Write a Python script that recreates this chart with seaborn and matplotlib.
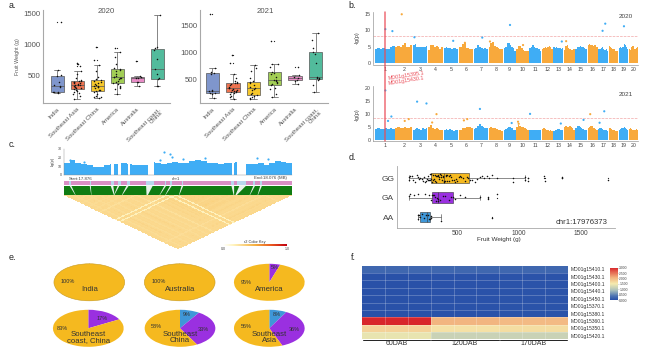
import numpy as np
import pandas as pd
import matplotlib
matplotlib.use("Agg")
import matplotlib.pyplot as plt
from matplotlib.colors import LinearSegmentedColormap
from matplotlib.cm import ScalarMappable
from matplotlib.patches import Polygon
import seaborn as sns

sns.set_theme(style="white")
plt.rcParams['font.family'] = ['Liberation Sans', 'DejaVu Sans']

W, H = 645, 350
fig = plt.figure(figsize=(W / 100, H / 100), dpi=100, facecolor="white")


def axpx(l, t, r, b, **kw):
    return fig.add_axes([l / W, 1 - b / H, (r - l) / W, (b - t) / H], **kw)


def tx(x, y, s, **kw):
    kw.setdefault("ha", "center")
    kw.setdefault("va", "center")
    kw.setdefault("color", "#333333")
    return fig.text(x / W, 1 - y / H, s, **kw)


GREY = "#A8A8A8"
TXT = "#555555"

# ---------------- panel a data
regions = ["India", "Southeast Asia", "Southeast China", "America", "Australia", "Southeast coast,\nChina"]
region_colors = ["#7F96CC", "#EE7350", "#F6C72A", "#A2CE55", "#E78CC6", "#52BB9C"]
w2020_india = [210, 220, 225, 235, 300, 320, 340, 390, 490, 500, 580, 1360]
w2020_seasia = [120, 170, 190, 215, 230, 250, 265, 280, 285, 295, 305, 315, 325, 335, 340, 345, 355, 365, 375, 385,
                395, 400, 405, 420, 450, 510, 560, 640, 680, 690]
w2020_china = [130, 140, 150, 170, 190, 230, 245, 255, 265, 285, 300, 310, 320, 325, 335, 350, 370, 395, 410, 420,
               430, 470, 560, 660, 740, 960]
w2020_america = [200, 280, 290, 300, 320, 350, 375, 385, 410, 430, 450, 460, 470, 475, 490, 520, 560, 590, 600, 610,
                 680, 790, 870, 930]
w2020_australia = [320, 390, 395, 450, 460, 470, 480, 730]
w2020_coast = [320, 330, 440, 450, 520, 600, 760, 900, 930, 950, 1470]
w2021_india = [150, 230, 235, 245, 270, 280, 290, 590, 610, 630, 700, 1700]
w2021_seasia = [130, 170, 190, 220, 245, 255, 260, 270, 280, 290, 305, 315, 325, 335, 350, 380, 410, 425, 430, 440,
                470, 520, 600, 800, 950]
w2021_china = [130, 140, 170, 190, 205, 215, 240, 290, 320, 340, 360, 380, 420, 445, 455, 520, 650, 700, 760]
w2021_america = [160, 230, 320, 330, 385, 400, 420, 450, 470, 480, 490, 530, 600, 620, 630, 730, 770, 780, 1200]
w2021_australia = [400, 470, 490, 510, 530, 570, 730]
w2021_coast = [260, 380, 490, 500, 510, 520, 540, 800, 960, 1000, 1070, 1220, 1350]

# ---------------- panel b data
chr_names = [str(i) for i in range(1, 21)]
chr_len = [60, 50, 44, 45, 43, 42, 43, 43, 36, 37, 35, 33, 30, 31, 35, 30, 30, 28, 28, 28]
env_2020 = [
    [4.2, 4.5, 4.4, 4.6, 4.3, 4.4, 4.8, 5.2], [4.8, 5.2, 5.0, 5.5, 6.0, 5.0, 4.9, 5.6],
    [5.6, 5.8, 5.0, 4.8, 5.0, 4.8, 5.0, 5.2], [4.0, 5.5, 5.4, 5.0, 5.2, 4.8, 4.4, 5.0],
    [4.6, 4.8, 4.5, 4.6, 4.4, 4.5, 4.5, 4.4], [4.8, 5.0, 5.8, 6.0, 4.6, 4.5, 4.2, 4.4],
    [4.2, 4.6, 5.6, 5.0, 4.5, 4.4, 4.6, 4.4], [5.0, 6.0, 6.4, 5.2, 5.0, 4.6, 4.4, 4.2],
    [4.6, 4.8, 6.0, 6.2, 5.6, 5.0, 4.5, 3.8], [4.2, 5.2, 5.2, 4.6, 4.0, 3.8, 3.6, 3.8],
    [4.6, 4.8, 5.4, 4.8, 4.6, 4.6, 4.2, 3.8], [4.2, 4.6, 4.8, 4.6, 5.0, 5.2, 4.8, 4.4],
    [4.8, 4.6, 4.8, 4.6, 4.5, 4.6, 4.4, 4.5], [4.0, 5.2, 5.6, 4.6, 4.2, 4.0, 4.0, 4.2],
    [4.4, 4.8, 5.0, 5.2, 5.0, 4.8, 4.6, 4.2], [5.4, 5.8, 5.6, 5.4, 5.2, 5.6, 5.4, 4.8],
    [4.2, 4.4, 4.6, 4.8, 4.2, 4.0, 4.2, 3.8], [5.2, 5.0, 4.6, 4.4, 4.2, 3.8, 3.6, 3.8],
    [4.6, 4.8, 4.6, 4.8, 5.8, 5.6, 5.0, 4.4], [4.2, 4.0, 5.0, 5.2, 4.4, 4.2, 4.6, 5.0]]
env_2021 = [
    [4.2, 4.4, 4.3, 4.2, 4.4, 4.2, 4.5, 4.3], [4.6, 5.0, 4.6, 4.4, 4.8, 4.4, 4.6, 5.0],
    [3.8, 4.2, 4.4, 4.2, 4.0, 4.4, 4.2, 4.4], [5.0, 5.6, 4.4, 4.2, 4.4, 4.2, 4.0, 3.8],
    [3.8, 4.2, 4.0, 4.2, 3.8, 3.6, 3.8, 4.0], [3.8, 4.0, 4.4, 4.6, 4.8, 5.0, 4.8, 4.4],
    [4.2, 4.6, 5.4, 6.0, 5.4, 4.8, 4.6, 4.4], [4.6, 4.8, 4.6, 4.4, 4.2, 4.0, 3.8, 3.6],
    [4.0, 4.2, 4.6, 4.8, 5.0, 4.4, 4.0, 3.8], [4.8, 5.6, 5.4, 5.0, 4.8, 4.6, 4.2, 3.8],
    [3.8, 4.0, 3.9, 3.8, 4.0, 3.9, 3.8, 3.7], [4.2, 4.4, 4.2, 4.0, 3.8, 3.6, 3.7, 3.6],
    [3.6, 3.8, 4.0, 4.2, 4.2, 4.0, 3.8, 4.0], [5.0, 5.4, 5.0, 4.8, 5.2, 5.0, 4.6, 4.0],
    [4.6, 5.4, 5.2, 5.0, 4.6, 4.2, 4.0, 3.8], [4.6, 5.0, 5.4, 5.2, 4.6, 4.4, 4.2, 3.8],
    [4.2, 4.6, 4.4, 4.2, 4.0, 3.8, 4.0, 3.6], [4.6, 4.4, 4.2, 4.0, 3.8, 3.6, 3.6, 3.4],
    [4.0, 4.2, 4.4, 4.6, 4.8, 4.6, 4.2, 3.8], [4.2, 4.4, 4.2, 4.0, 3.8, 4.0, 4.2, 3.8]]
peak2020_chr = [1, 1, 2, 3, 5, 7, 9, 13, 14, 17, 17, 19, 6, 8, 10]
peak2020_pos = [32, 53, 19, 5, 28, 26, 19, 25, 6, 13, 21, 15, 18, 4, 20]
peak2020_val = [10.4, 9.8, 15.0, 7.9, 6.8, 7.8, 11.7, 6.6, 6.7, 9.9, 12.1, 11.3, 6.2, 6.6, 5.5]
peak2021_chr = [1, 1, 1, 2, 2, 3, 3, 4, 4, 6, 6, 7, 9, 10, 10, 11, 13, 15, 16, 17, 17]
peak2021_pos = [32, 50, 40, 28, 40, 13, 41, 25, 12, 15, 25, 19, 24, 5, 7, 2, 22, 25, 8, 4, 18]
peak2021_val = [19.0, 9.0, 7.3, 7.3, 8.0, 14.7, 14.0, 9.9, 6.7, 7.5, 8.0, 11.9, 6.5, 7.0, 6.2, 10.0, 6.3, 7.7, 9.9, 6.6, 11.0]
gene_labels = ["MD01g15395.1", "MD01g15430.1"]

# ---------------- panel c data
c_env = [13, 17, 14, 12, 11, 9, 9, 11, 12, 12, 13, 12, 11, 11, 11, 15, 14, 12, 13, 15,
         14, 14, 16, 17, 16, 14, 13, 12, 13, 14, 15, 13, 12, 12, 13, 11, 13, 16, 15, 14]
c_gap_start = [17.9172, 17.9230, 17.9323, 17.9499, 18.0234, 18.0281]
c_gap_end = [17.9198, 17.9256, 17.9338, 17.9551, 18.0252, 18.0354]
c_peak_x = [17.8815, 17.8935, 17.9600, 17.9690, 17.9707, 17.9800, 18.0000, 18.0450, 18.0550, 17.9640]
c_peak_y = [17, 15, 17, 24, 21, 18, 19, 19, 18, 27]
link_top = [17.8815, 17.8990, 17.9180, 17.9240, 17.9320, 17.9510, 17.9650, 17.9700, 17.9800, 18.0240, 18.0330, 18.0430, 18.0490]
link_bot = [17.8860, 17.9000, 17.9200, 17.9200, 17.9270, 17.9490, 17.9600, 17.9650, 17.9770, 18.0250, 18.0270, 18.0390, 18.0460]
link_w = [0.0008, 0.0005, 0.0012, 0.0008, 0.0010, 0.0030, 0.0008, 0.0008, 0.0008, 0.0012, 0.0030, 0.0008, 0.0008]
ld_weight = [0.29, 0.30, 0.29, 0.28, 0.30, 0.29, 0.31, 0.29, 0.28, 0.30, 0.29, 0.30, 0.28, 0.29, 0.30, 0.31, 0.29, 0.28,
             0.30, 0.29, 0.30, 0.28, 0.29, 0.30, 0.29, 0.26, 0.29, 0.30, 0.29, 0.31, 0.30, 0.29, 0.31, 0.30, 0.32, 0.30,
             0.17, 0.30, 0.31, 0.17, 0.31, 0.32, 0.33, 0.32, 0.33, 0.31, 0.32, 0.33, 0.32, 0.31, 0.33, 0.32, 0.31, 0.30,
             0.32, 0.31, 0.32, 0.33, 0.31, 0.30, 0.31, 0.32, 0.31, 0.30, 0.29, 0.30, 0.31, 0.30, 0.29, 0.30, 0.27, 0.29,
             0.30, 0.29, 0.30, 0.31, 0.29, 0.30, 0.29, 0.30]

# ---------------- panel d data
genotypes = ["GG", "GA", "AA"]
geno_colors = ["#F5B91F", "#9A30E0", "#3F97D8"]
fw_gg = [110, 110, 115, 130, 140, 160, 170, 180, 190, 200, 210, 220, 230, 240, 250, 255, 260, 265, 270, 275, 280, 285,
         290, 295, 300, 305, 310, 315, 320, 325, 330, 335, 340, 345, 350, 355, 360, 365, 370, 375, 380, 385, 390, 395,
         400, 405, 410, 415, 420, 430, 435, 440, 450, 460, 470, 480, 490, 500, 510, 520, 530, 545, 560, 575, 590, 600,
         620, 640, 660, 680, 700, 720, 740, 760, 780, 820, 950, 950, 1050, 1050, 1070, 1070, 1200, 1210, 1350, 1350, 1720]
fw_ga = [110, 120, 150, 180, 240, 270, 285, 295, 300, 310, 320, 330, 335, 340, 345, 360, 380, 400, 430, 450, 465, 480,
         520, 560, 680, 750, 750, 820]
fw_aa = [180, 185, 190, 195, 210, 230, 250, 260, 270, 275, 285, 290, 370, 780]

# ---------------- panel e data
pie_names = ["India", "Australia", "America", "Southeast\ncoast, China", "Southeast\nChina", "Southeast\nAsia"]
pie_blue = [0, 0, 0, 0, 9, 8]
pie_purple = [0, 0, 5, 17, 33, 36]
pie_yellow = [100, 100, 95, 83, 58, 56]
allele_colors = ["#3F97D8", "#9A30E0", "#F5B91F"]

# ---------------- panel f data
gene_ids = ["MD01g15410.1", "MD01g15430.1", "MD01g15400.1", "MD01g15440.1", "MD01g15450.1",
            "MD01g15370.1", "MD01g15380.1", "MD01g15360.1", "MD01g15350.1", "MD01g15420.1"]
stages = ["60DAB", "120DAB", "170DAB"]
expr_60 = [0.25, 0.02, 0.02, 0.02, 0.02, 0.02, 0.02, 3.0, 1.75, 1.4]
expr_120 = [0.25, 0.03, 0.03, 0.03, 0.03, 0.03, 0.03, 2.05, 1.6, 1.15]
expr_170 = [0.25, 0.04, 0.04, 0.04, 0.04, 0.04, 0.04, 2.0, 1.65, 1.15]
cbar_ticks = [0.0, 0.5, 1.0, 1.5, 2.0, 2.5, 3.0]


# ===================== panel a
def panel_a(ax, groups, xlim, ylim, yticks):
    df = pd.DataFrame([(r, v) for r, g in zip(regions, groups) for v in g], columns=["region", "w"])
    sns.boxplot(data=df, x="region", y="w", hue="region", order=regions, hue_order=regions, palette=region_colors,
                width=0.65, linewidth=0.5, fliersize=0.9, saturation=1, legend=False, ax=ax,
                linecolor="#555555", flierprops=dict(marker="o", markerfacecolor="#222222", markeredgewidth=0))
    sns.stripplot(data=df, x="region", y="w", order=regions, color="#111111", size=1.1, jitter=0.2, ax=ax)
    ax.set_xlim(*xlim)
    ax.set_ylim(*ylim)
    ax.set_yticks(yticks)
    ax.set_xlabel("")
    ax.set_ylabel("")
    ax.set_xticks(range(len(regions)))
    ax.set_xticklabels(regions, rotation=45, ha="right", rotation_mode="anchor", fontsize=4.3, color=TXT, linespacing=0.95)
    ax.tick_params(axis="y", labelsize=5.6, labelcolor=TXT, length=1, width=0.4, color=GREY, pad=1)
    ax.tick_params(axis="x", length=1, width=0.4, color=GREY, pad=1.5)
    sns.despine(ax=ax)
    for s in ("left", "bottom"):
        ax.spines[s].set_color(GREY)
        ax.spines[s].set_linewidth(0.8)


axa1 = axpx(43, 10, 170, 103)
panel_a(axa1, [w2020_india, w2020_seasia, w2020_china, w2020_america, w2020_australia, w2020_coast],
        (-0.7, 5.65), (50, 1550), [500, 1000, 1500])
axa2 = axpx(200, 10, 328, 103)
panel_a(axa2, [w2021_india, w2021_seasia, w2021_china, w2021_america, w2021_australia, w2021_coast],
        (-0.6, 5.6), (55, 1780), [500, 1000, 1500])
tx(106, 11.7, "2020", fontsize=5.6, color=TXT)
tx(265, 11.7, "2021", fontsize=5.6, color=TXT)
tx(17, 57, "Fruit Weight (g)", fontsize=3.8, rotation=90, color=TXT)

# ===================== panel b
starts = np.concatenate([[0], np.cumsum(np.array(chr_len) + 2)[:-1]])
centers = starts + np.array(chr_len) / 2
BLUE = "#3FADF5"
ORANGE = "#F8A93C"
RED = "#EA4A55"


def panel_b(ax, env, pchr, ppos, pval, ylim, yticks, thr):
    for i, e in enumerate(env):
        xs = np.linspace(starts[i], starts[i] + chr_len[i], len(e) + 1)
        col = BLUE if i % 2 == 0 else ORANGE
        ax.fill_between(xs, list(e) + [e[-1]], 0, step="post", color=col, lw=0)
    df = pd.DataFrame({"x": starts[np.array(pchr) - 1] + np.array(ppos), "y": pval,
                       "c": ["a" if (c % 2) else "b" for c in pchr]})
    sns.scatterplot(data=df, x="x", y="y", hue="c", hue_order=["a", "b"], palette=[BLUE, ORANGE], s=2.5, lw=0,
                    legend=False, ax=ax, zorder=4)
    ax.axhline(thr, color="#F2A6A6", lw=0.5, ls="--")
    ax.set_xlim(-5, 788)
    ax.set_ylim(*ylim)
    ax.set_yticks(yticks)
    ax.set_xticks(centers)
    ax.set_xticklabels(chr_names)
    ax.set_xlabel("")
    ax.set_ylabel("")
    ax.tick_params(axis="both", labelsize=3.8, labelcolor="#444444", length=1, width=0.3, color="#888888", pad=0.8)
    sns.despine(ax=ax)
    for s in ("left", "bottom"):
        ax.spines[s].set_color("#999999")
        ax.spines[s].set_linewidth(0.5)


axb1 = axpx(373, 12, 638, 64.5)
panel_b(axb1, env_2020, peak2020_chr, peak2020_pos, peak2020_val, (-0.5, 15.7), [0, 5, 10, 15], 8.3)
axb2 = axpx(373, 86, 638, 141)
panel_b(axb2, env_2021, peak2021_chr, peak2021_pos, peak2021_val, (-0.4, 20.7), [0, 5, 10, 15, 20], 8.5)
line_px = 373 + (starts[0] + 32 + 5) / 793 * 265
fig.add_artist(plt.Line2D([line_px / W, line_px / W], [1 - 12 / H, 1 - 141 / H], color=RED, lw=1.1, alpha=0.8, zorder=10))
tx(388, 79, gene_labels[0], fontsize=3.8, rotation=9, ha="left", color=RED, rotation_mode="anchor")
tx(388, 84, gene_labels[1], fontsize=3.8, rotation=9, ha="left", color=RED, rotation_mode="anchor")
tx(626, 17, "2020", fontsize=4.6, color="#444444")
tx(626, 94, "2021", fontsize=4.6, color="#444444")
tx(357, 38, "-lg(p)", fontsize=3.8, rotation=90)
tx(357, 115, "-lg(p)", fontsize=3.8, rotation=90)

# ===================== panel c
axc = axpx(64, 149, 292, 174.5)
c_edges = np.linspace(17.876, 18.076, len(c_env) + 1)
axc.fill_between(c_edges, c_env + [c_env[-1]], 0, step="post", color=BLUE, lw=0)
for a, b in zip(c_gap_start, c_gap_end):
    axc.axvspan(a, b, color="white", lw=0, zorder=2)
sns.scatterplot(x=c_peak_x, y=c_peak_y, color=BLUE, s=2.5, lw=0, ax=axc, zorder=3)
axc.set_xlim(17.876, 18.076)
axc.set_ylim(0, 30)
axc.set_yticks([0, 10, 20, 30])
axc.set_xticks([])
axc.tick_params(axis="y", labelsize=2.6, length=0.8, width=0.3, pad=0.5, labelcolor="#444444")
sns.despine(ax=axc, bottom=False)
axc.spines["left"].set_linewidth(0.3)
axc.spines["left"].set_color("#888888")
axc.spines["bottom"].set_linewidth(0.3)
axc.spines["bottom"].set_color("#888888")
tx(53, 161, "-lg(p)", fontsize=2.8, rotation=90)
tx(81, 178.5, "Start:17.876", fontsize=3.2, color="#444444")
tx(176, 178.5, "chr1", fontsize=3.2, color="#444444")
tx(270, 178.5, "End:18.076 (MB)", fontsize=3.2, color="#444444")

axs = axpx(64, 181, 292, 195)
axs.axis("off")
axs.set_xlim(17.876, 18.076)
axs.set_ylim(0, 14)
axs.axhspan(10, 14, color="#D98FC5", lw=0)
axs.axhspan(0, 9.4, color="#0F7C12", lw=0)
for a, b in zip(c_gap_start, c_gap_end):
    axs.axvspan(a, b, ymin=10 / 14, ymax=1, color="#B9D7EE", lw=0, zorder=2)
for t, bt, w in zip(link_top, link_bot, link_w):
    axs.add_patch(Polygon([(t - w, 9.6), (t + w, 9.6), (bt + w * 0.2, 0), (bt - w * 0.2, 0)], closed=True,
                          facecolor="#E8F2EA", edgecolor="none", zorder=3))
    axs.axvspan(t - w, t + w, ymin=10 / 14, ymax=1, color="#B9D7EE", lw=0, zorder=2)

ld_cmap = LinearSegmentedColormap.from_list("ld", [(0, "#FFFFFF"), (0.15, "#FFF5C4"), (0.5, "#F5B040"),
                                                    (0.75, "#EA5A20"), (1, "#C00010")])
axt = axpx(64, 195, 292, 249)
n = len(ld_weight)
ii, jj = np.meshgrid(np.arange(n + 1), np.arange(n + 1), indexing="ij")
X = (ii + jj) / 2
Y = -(jj - ii) / 2
wt = np.array(ld_weight)
C = np.ma.masked_where(np.arange(n)[:, None] > np.arange(n)[None, :], np.minimum.outer(wt, wt))
axt.pcolormesh(X, Y, C, cmap=ld_cmap, vmin=0, vmax=1, shading="flat", linewidth=0, rasterized=True)
axt.set_xlim(0, n)
axt.set_ylim(-n / 2, 0)
axt.axis("off")

axk = axpx(223, 244.3, 287, 246.3)
cb = fig.colorbar(ScalarMappable(cmap=ld_cmap, norm=plt.Normalize(0, 1)), cax=axk, orientation="horizontal")
cb.set_ticks([0, 1], labels=["0.0", "1.0"])
cb.ax.tick_params(labelsize=2.6, length=0, pad=0.4, labelcolor="#444444")
cb.outline.set_visible(False)
tx(255, 241.5, "r2 Color Key", fontsize=2.8)

# ===================== panel d
axd = axpx(397, 166, 615, 228)
df_d = pd.DataFrame([(g, v) for g, vals in zip(genotypes, [fw_gg, fw_ga, fw_aa]) for v in vals], columns=["g", "w"])
sns.boxplot(data=df_d, y="g", x="w", hue="g", order=genotypes, hue_order=genotypes, palette=geno_colors, width=0.55,
            linewidth=0.4, fliersize=0.9, saturation=1, legend=False, ax=axd, linecolor="#333333",
            flierprops=dict(marker="o", markerfacecolor="#222222", markeredgewidth=0))
sns.stripplot(data=df_d, y="g", x="w", order=genotypes, color="#111111", size=1.1, jitter=0.2, ax=axd)
axd.set_xlim(11, 1778)
axd.set_ylim(2.56, -0.62)
axd.set_xticks([500, 1000, 1500])
axd.set_xlabel("")
axd.set_ylabel("")
axd.tick_params(axis="x", labelsize=4.8, labelcolor="#444444", length=1, width=0.4, color="#999999", pad=0.5)
axd.tick_params(axis="y", labelsize=6, labelcolor="#444444", length=1, width=0.4, color="#999999", pad=1)
sns.despine(ax=axd)
for s in ("left", "bottom"):
    axd.spines[s].set_color(GREY)
    axd.spines[s].set_linewidth(0.6)
tx(581.7, 222.7, "chr1:17976373", fontsize=5.6, color="#333333")
tx(499, 239.5, "Fruit Weight (g)", fontsize=4.6, color="#333333")

# ===================== panel e
pie_cx = [89.3, 179.7, 269.3, 88.3, 180, 269.3]
pie_cy = [282.3, 282.3, 282.3, 328.3, 328.3, 328.3]
RX, RY = 35.7, 18.7
pie_lab_left = [(-0.6, 0.07), (-0.6, 0.07), (-0.65, 0.0), (-0.72, 0.0), (-0.68, 0.1), (-0.65, 0.1)]
pie_lab_p = [None, None, (0.15, 0.8), (0.4, 0.55), (0.65, -0.05), (0.7, -0.05)]
pie_lab_b = [None, None, None, None, (0.2, 0.75), (0.2, 0.75)]
for k in range(6):
    ax = axpx(pie_cx[k] - RX, pie_cy[k] - RY, pie_cx[k] + RX, pie_cy[k] + RY)
    vals = [pie_blue[k], pie_purple[k], pie_yellow[k]]
    ax.pie(vals, colors=allele_colors, startangle=90, counterclock=False,
           wedgeprops=dict(edgecolor="#C79A20" if vals[2] == 100 else "none", linewidth=0.4))
    ax.set_aspect("auto")
    ax.set_xlim(-1.01, 1.01)
    ax.set_ylim(-1.01, 1.01)
    lx, ly = pie_lab_left[k]
    ax.text(lx, ly, f"{pie_yellow[k]}%", fontsize=4, ha="center", va="center", color="#333333")
    if pie_lab_p[k]:
        ax.text(*pie_lab_p[k], f"{pie_purple[k]}%", fontsize=4, ha="center", va="center", color="#333333")
    if pie_lab_b[k]:
        ax.text(*pie_lab_b[k], f"{pie_blue[k]}%", fontsize=4, ha="center", va="center", color="#333333")
    ax.text(0, -0.38 if k < 3 else -0.5, pie_names[k], fontsize=5.6, ha="center", va="center", color="#333333",
            linespacing=0.95, zorder=6)

# ===================== panel f
expr_cmap = LinearSegmentedColormap.from_list("expr", [(0, "#2850A8"), (0.12, "#4A72B2"), (0.3, "#A9C0BC"),
                                                        (0.5, "#F5EBAE"), (0.7, "#F2B07C"), (1, "#D8262B")])
mat = np.column_stack([expr_60] * 3 + [expr_120] * 3 + [expr_170] * 3)
axf = axpx(362.3, 265.7, 567.7, 339.3)
axcb = axpx(610, 267.7, 617.7, 300)
sns.heatmap(mat, cmap=expr_cmap, vmin=0, vmax=3, linewidths=0, ax=axf, cbar_ax=axcb,
            xticklabels=False, yticklabels=gene_ids)
for r in range(1, len(gene_ids)):
    axf.axhline(r, color="white", lw=0.45, alpha=0.35)
for c in range(1, mat.shape[1]):
    axf.axvline(c, color="white", lw=0.45, alpha=0.35)
axf.yaxis.tick_right()
axf.tick_params(axis="y", labelsize=3.6, length=0, pad=2, labelrotation=0, labelcolor="#333333")
axcb.set_yticks(cbar_ticks, labels=[f"{v:.3f}" for v in cbar_ticks])
axcb.tick_params(labelsize=2.4, length=0.6, width=0.2, pad=0.5, labelcolor="#444444")
for a, s in enumerate(stages):
    axf.plot([a * 3 + 0.03, a * 3 + 2.97], [10.13, 10.13], color="#222222", lw=0.7, clip_on=False)
    axf.text(a * 3 + 1.5, 10.6, s, ha="center", va="center", fontsize=5, color="#333333")

# ===================== panel letters
for (x, y, s) in [(12, 6, "a."), (352, 6, "b."), (12, 144, "c."), (352, 157, "d."), (12, 258, "e."), (353, 257, "f.")]:
    tx(x, y, s, fontsize=6.4, color="#222222")

fig.savefig("out.png", dpi=100, facecolor="white")
